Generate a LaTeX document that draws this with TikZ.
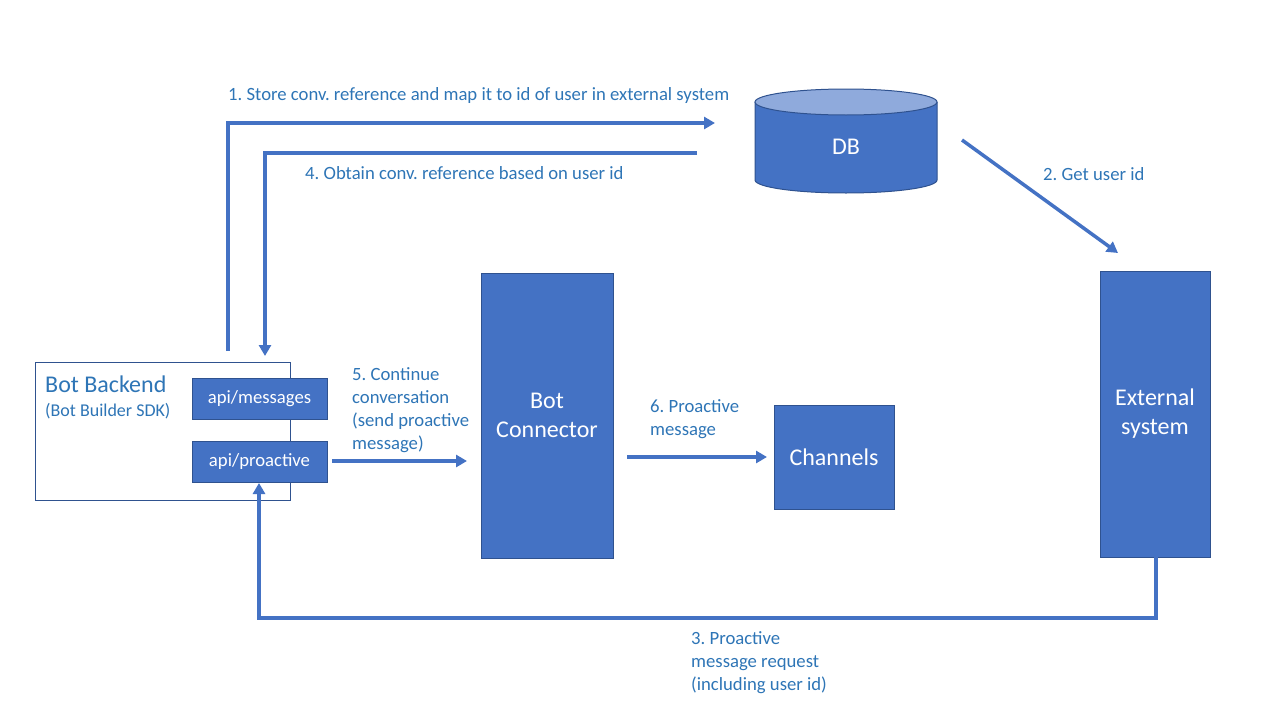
\documentclass[tikz,border=0pt]{standalone}
\usepackage{fontspec}
\setmainfont{Carlito}
\usetikzlibrary{arrows.meta,calc}
\definecolor{fillblue}{HTML}{4472C4}
\definecolor{edgeblue}{HTML}{2F528F}
\definecolor{textblue}{HTML}{2E75B6}
\definecolor{topblue}{HTML}{8FAADC}
\frenchspacing
\begin{document}
\begin{tikzpicture}[x=1pt,y=-1pt,
  box/.style={draw=edgeblue, line width=1pt, fill=fillblue, text=white, inner sep=0pt, align=center, font=\fontsize{24}{29}\selectfont},
  smallbox/.style={box, font=\fontsize{18.7}{22}\selectfont},
  lbl/.style={text=textblue, align=left, anchor=base west, inner sep=0pt, font=\fontsize{18.7}{23}\selectfont},
  flow/.style={draw=fillblue, line width=3.5pt, -{Triangle[length=11pt,width=12pt]}}
]
\useasboundingbox (0,0) rectangle (1280,720);

% boxes
\node[draw=edgeblue, line width=1pt, fill=white, minimum width=255pt, minimum height=138pt, inner sep=0pt] (backend) at (162.5,431) {};
\node[lbl, font=\fontsize{24}{29}\selectfont] (bbtitle) at (45,392) {Bot Backend};
\node[lbl, font=\fontsize{18}{22}\selectfont] (bbsub) at (45,416) {(Bot Builder SDK)};
\node[smallbox, minimum width=135pt, minimum height=41pt] (msgs) at (259.5,398.5) {api/messages};
\node[smallbox, minimum width=135pt, minimum height=41pt] (pro) at (259.5,461.5) {api/proactive};
\node[box, minimum width=132pt, minimum height=285pt] (conn) at (547,415.5) {Bot\\Connector};
\node[box, minimum width=120pt, minimum height=104pt] (chan) at (834,457) {Channels};
\node[box, minimum width=110pt, minimum height=286pt] (ext) at (1155,414) {External\\system};

% DB cylinder
\path[fill=fillblue] (755,102) -- (755,180) arc[start angle=180,end angle=360,x radius=91pt,y radius=13pt] -- (937,102) -- cycle;
\draw[edgeblue, line width=1pt] (755,102) -- (755,180) arc[start angle=180,end angle=360,x radius=91pt,y radius=13pt] -- (937,102);
\filldraw[fill=topblue, draw=edgeblue, line width=1pt] (846,102) ellipse [x radius=91pt, y radius=13pt];
\node[text=white, font=\fontsize{24}{29}\selectfont] (db) at (846,147) {DB};

% free connector ends
\coordinate (s1) at (228,351);
\coordinate (e1) at (715,123);
\coordinate (s4) at (697,153);
\coordinate (e4) at (265,356);
\coordinate (s2) at (962,140);
\coordinate (e2) at (1118,253);
\coordinate (s5) at (332,461);
\coordinate (e5) at (467,461);
\coordinate (s6) at (627,457);
\coordinate (e6) at (767,457);
\coordinate (s3) at (1156,557);
\coordinate (e3) at (259,483);

% connectors
\draw[flow] (s1) |- (e1);
\draw[flow] (s4) -| (e4);
\draw[flow] (s2) -- (e2);
\draw[flow] (s5) -- (e5);
\draw[flow] (s6) -- (e6);
\draw[flow] (s3) -- (1156,618) -| (e3);

% labels
\node[lbl] (l1) at (228,100) {1. Store conv. reference and map it to id of user in external system};
\node[lbl] (l4) at (305,179) {4. Obtain conv. reference based on user id};
\node[lbl] (l2) at (1043,180) {2. Get user id};
\node[lbl, anchor=north west] (l5) at (352,367) {5. Continue\\conversation\\(send proactive\\message)};
\node[lbl, anchor=north west] (l6) at (650,399) {6. Proactive\\message};
\node[lbl, anchor=north west] (l3) at (691,631) {3. Proactive\\message request\\(including user id)};
\end{tikzpicture}
\end{document}
